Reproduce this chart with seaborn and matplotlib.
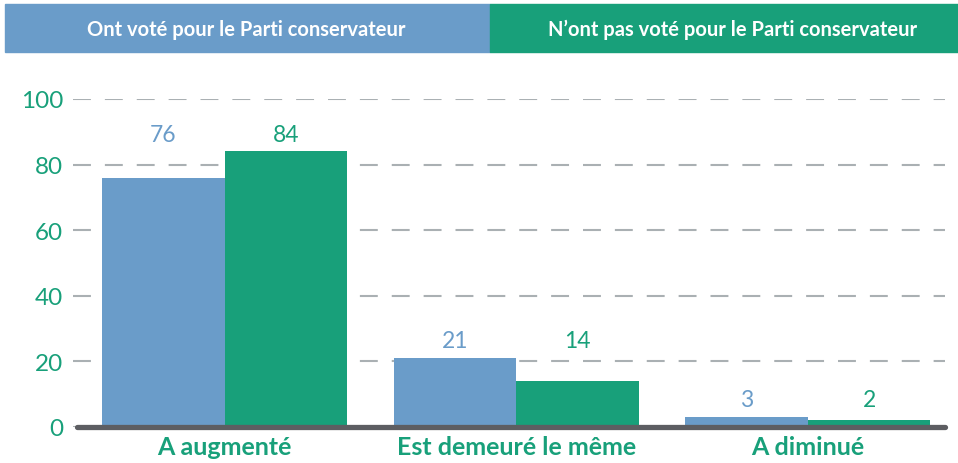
import pandas as pd
import matplotlib.pyplot as plt
import seaborn as sns
from matplotlib.patches import Rectangle

# Data
categories = ["A augmenté", "Est demeuré le même", "A diminué"]
groups = ["Ont voté pour le Parti conservateur", "N'ont pas voté pour le Parti conservateur"]
voted_cons = [76, 21, 3]
not_voted_cons = [84, 14, 2]
yticks = [0, 20, 40, 60, 80, 100]

blue = "#6a9cc9"
green = "#18a07a"
grey_grid = "#aab0b3"
dark = "#5d5e62"

df = pd.DataFrame({
    "categorie": categories * 2,
    "groupe": [groups[0]] * 3 + [groups[1]] * 3,
    "valeur": voted_cons + not_voted_cons,
})

sns.set_style("white")
plt.rcParams["font.family"] = ["Lato", "DejaVu Sans"]

fig = plt.figure(figsize=(9.58, 4.64), dpi=100)
ax = fig.add_axes([73 / 958, 1 - 428 / 464, (945 - 73) / 958, 328 / 464])

sns.barplot(data=df, x="categorie", y="valeur", hue="groupe", order=categories,
            hue_order=groups, palette=[blue, green], width=0.84, saturation=1,
            linewidth=0, legend=False, ax=ax, zorder=3)

ax.set_ylim(0, 100)
ax.set_xlim(-0.52, 2.47)
ax.set_yticks(yticks)
ax.set_yticklabels([str(t) for t in yticks])
ax.yaxis.grid(True, color=grey_grid, linewidth=1.5, linestyle=(0, (8.6, 6.7)), zorder=0)
ax.xaxis.grid(False)
for sp in ax.spines.values():
    sp.set_visible(False)
ax.tick_params(axis="y", length=0, pad=7, labelsize=17.5, labelcolor=green)
ax.tick_params(axis="x", length=0, pad=6, labelsize=18, labelcolor=green)
for lab in ax.get_xticklabels():
    lab.set_fontweight("bold")
ax.set_xlabel("")
ax.set_ylabel("")

# dark baseline
ax.axhline(0, xmin=0.005, xmax=1, color=dark, linewidth=3.8, zorder=5, clip_on=False)

# value labels above each pair
for i, (a, b) in enumerate(zip(voted_cons, not_voted_cons)):
    top = max(a, b)
    for val, off, col in [(a, -0.21, blue), (b, 0.21, green)]:
        ax.annotate(str(val), (i + off, top), xytext=(0, 12.5), textcoords="offset points",
                    ha="center", va="center", fontsize=16.5, color=col)

# header band acting as legend
fig.patches.append(Rectangle((5 / 958, 1 - 53 / 464), 485 / 958, 48 / 464,
                             transform=fig.transFigure, color=blue, zorder=0))
fig.patches.append(Rectangle((490 / 958, 1 - 53 / 464), 468 / 958, 48 / 464,
                             transform=fig.transFigure, color=green, zorder=0))
fig.text(246 / 958, 1 - 30 / 464, groups[0], color="white", fontsize=14.5,
         fontweight="bold", ha="center", va="center")
fig.text(733 / 958, 1 - 30 / 464, groups[1].replace("'", "\u2019"), color="white",
         fontsize=14.5, fontweight="bold", ha="center", va="center")

fig.savefig("out.png", dpi=100)
